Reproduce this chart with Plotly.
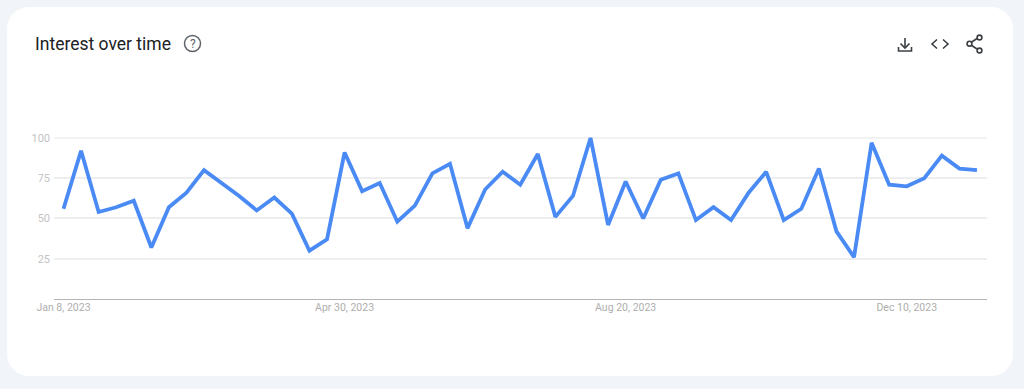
import plotly.graph_objects as go
import pandas as pd

W, H = 1024, 389
start_date = "2023-01-08"
values = [56, 92, 54, 57, 61, 32, 57, 66, 80, 72, 64, 55, 63, 53, 30, 37,
          91, 67, 72, 48, 58, 78, 84, 44, 68, 79, 71, 90, 51, 64, 100, 46,
          73, 50, 74, 78, 49, 57, 49, 66, 79, 49, 56, 81, 42, 26, 97, 71,
          70, 75, 89, 81, 80]
dates = pd.date_range(start_date, periods=len(values), freq="7D")
x_tick_dates = ["2023-01-08", "2023-04-30", "2023-08-20", "2023-12-10"]
x_tick_labels = ["Jan 8, 2023", "Apr 30, 2023", "Aug 20, 2023", "Dec 10, 2023"]
y_ticks = [25, 50, 75, 100]
title = "Interest over time"

BG = "#f1f4f9"
ICON = "#3c4043"
HELP = "#5f6368"
GRID = "#eeeeee"

def px(x): return x / W
def py(y): return 1 - y / H
def path(*cmds):
    out = []
    for c in cmds:
        op, pts = c[0], c[1:]
        out.append(op + " ".join(f"{px(a):.5f},{py(b):.5f}" for a, b in pts))
    return " ".join(out)

def stroke(p, color=ICON, w=1.6):
    return dict(type="path", xref="paper", yref="paper", path=p,
                line=dict(color=color, width=w), layer="above")

def circle(cx, cy, r, color=ICON, w=1.6):
    return dict(type="circle", xref="paper", yref="paper",
                x0=px(cx - r), x1=px(cx + r), y0=py(cy + r), y1=py(cy - r),
                line=dict(color=color, width=w), layer="above")

# Card
L, T, R, B, r = 7, 7, 1013, 376, 22
k = 0.45 * r
card = path(("M", (L + r, T)), ("L", (R - r, T)),
            ("C", (R - k, T), (R, T + k), (R, T + r)),
            ("L", (R, B - r)),
            ("C", (R, B - k), (R - k, B), (R - r, B)),
            ("L", (L + r, B)),
            ("C", (L + k, B), (L, B - k), (L, B - r)),
            ("L", (L, T + r)),
            ("C", (L, T + k), (L + k, T), (L + r, T))) + " Z"

shapes = [dict(type="path", xref="paper", yref="paper", path=card,
               fillcolor="white", line=dict(width=0), layer="below")]
# top gridline (plotly drops a grid line this close to the axis end)
shapes.append(dict(type="line", xref="x domain", yref="y", x0=0, x1=1,
                   y0=y_ticks[-1], y1=y_ticks[-1],
                   line=dict(color=GRID, width=1.5), layer="below"))
# help icon
shapes.append(circle(192.5, 43.5, 8, HELP, 1.5))
# download icon
shapes.append(stroke(path(("M", (905, 38)), ("L", (905, 48)))))
shapes.append(stroke(path(("M", (900.5, 43.5)), ("L", (905, 48)), ("L", (909.5, 43.5)))))
shapes.append(stroke(path(("M", (898.5, 47)), ("L", (898.5, 51)), ("L", (911.5, 51)), ("L", (911.5, 47)))))
# embed icon
shapes.append(stroke(path(("M", (937, 39.5)), ("L", (932, 44)), ("L", (937, 48.5)))))
shapes.append(stroke(path(("M", (943, 39.5)), ("L", (948, 44)), ("L", (943, 48.5)))))
# share icon
shapes.append(stroke(path(("M", (971, 42.5)), ("L", (977, 38.5)))))
shapes.append(stroke(path(("M", (971, 45)), ("L", (977, 49)))))
for c in [(979.5, 37.5), (969.5, 43.7), (979.5, 50.5)]:
    shapes.append(circle(c[0], c[1], 2.4))

fig = go.Figure(go.Scatter(
    x=dates, y=values, mode="lines",
    line=dict(color="#4a8af4", width=3.8, shape="linear"),
    hoverinfo="skip",
))

plot_l, plot_r = 54, 987
first_px, last_px = 63.5, 977
days = (dates[-1] - dates[0]).days
per_px = days / (last_px - first_px)
x0 = dates[0] - pd.Timedelta(days=(first_px - plot_l) * per_px)
x1 = dates[-1] + pd.Timedelta(days=(plot_r - last_px) * per_px)

fig.update_layout(
    width=W, height=H,
    margin=dict(l=0, r=0, t=0, b=0, autoexpand=False),
    paper_bgcolor=BG, plot_bgcolor="rgba(0,0,0,0)",
    showlegend=False,
    shapes=shapes,
    font=dict(family="Roboto, sans-serif"),
    xaxis=dict(domain=[px(plot_l), px(plot_r)], type="date", range=[x0, x1],
               automargin=False,
               tickmode="array", tickvals=x_tick_dates, ticktext=x_tick_labels,
               showgrid=False, zeroline=False, showline=True,
               linecolor="#b4b4b4", linewidth=1, ticks="", ticklen=0,
               ticklabelstandoff=-2,
               tickfont=dict(size=10.5, color="#aeaeae")),
    yaxis=dict(domain=[py(299), py(137)], range=[0, 100.6],
               automargin=False,
               tickmode="array", tickvals=y_ticks, ticktext=[str(v) for v in y_ticks],
               showgrid=True, gridcolor=GRID, gridwidth=1.5, zeroline=False,
               showline=False, ticks="", ticklabelstandoff=3,
               tickfont=dict(size=11, color="#c4c4c4")),
    annotations=[
        dict(text=title, xref="paper", yref="paper", x=px(32.5), y=py(44),
             xanchor="left", yanchor="middle", showarrow=False,
             font=dict(family="Roboto, sans-serif", size=17.5, color="#202124")),
        dict(text="?", xref="paper", yref="paper", x=px(192.5), y=py(43.5),
             xanchor="center", yanchor="middle", showarrow=False,
             font=dict(family="Roboto, sans-serif", size=12, color=HELP)),
    ],
)

fig.write_html("out.html", config={"displayModeBar": False},
               post_script="document.body.style.margin='0';document.body.style.overflow='hidden';window.dispatchEvent(new Event('resize'));")
